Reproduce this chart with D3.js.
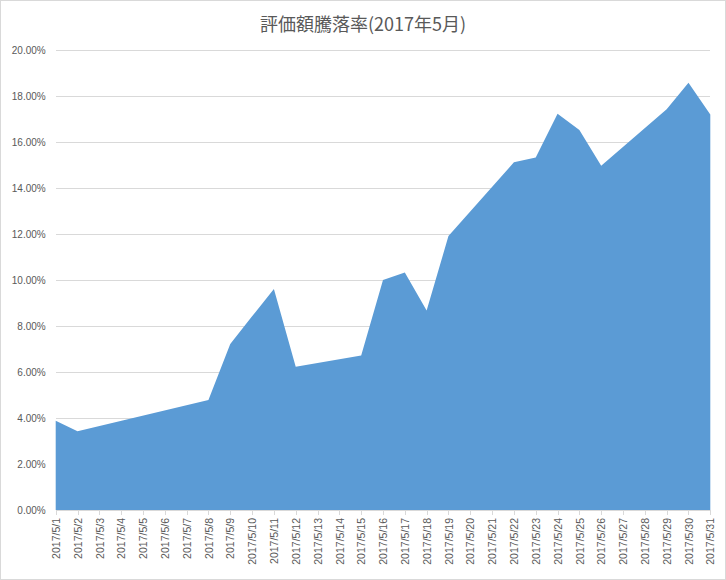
<!DOCTYPE html>
<html>
<head>
<meta charset="utf-8">
<script src="https://cdn.jsdelivr.net/npm/d3@7"></script>
<style>
  html, body { margin: 0; padding: 0; background: #fff; }
  svg { display: block; }
</style>
</head>
<body>
<svg id="chart" width="726" height="580"></svg>
<script>
const title = "評価額騰落率(2017年5月)";
const dataDates = ["2017/5/1","2017/5/2","2017/5/8","2017/5/9","2017/5/10","2017/5/11","2017/5/12",
  "2017/5/15","2017/5/16","2017/5/17","2017/5/18","2017/5/19","2017/5/22","2017/5/23","2017/5/24",
  "2017/5/25","2017/5/26","2017/5/29","2017/5/30","2017/5/31"];
const dataValues = [3.88, 3.42, 4.78, 7.22, 8.42, 9.61, 6.23,
  6.72, 10.0, 10.33, 8.67, 11.91, 15.12, 15.33, 17.23,
  16.52, 14.97, 17.42, 18.58, 17.2];
const xTickLabels = ["2017/5/1","2017/5/2","2017/5/3","2017/5/4","2017/5/5","2017/5/6","2017/5/7",
  "2017/5/8","2017/5/9","2017/5/10","2017/5/11","2017/5/12","2017/5/13","2017/5/14","2017/5/15",
  "2017/5/16","2017/5/17","2017/5/18","2017/5/19","2017/5/20","2017/5/21","2017/5/22","2017/5/23",
  "2017/5/24","2017/5/25","2017/5/26","2017/5/27","2017/5/28","2017/5/29","2017/5/30","2017/5/31"];
const yTicks = [0, 2, 4, 6, 8, 10, 12, 14, 16, 18, 20];

const W = 726, H = 580;
const plot = { left: 55.7, right: 710.3, top: 50, bottom: 510 };
const parse = d3.timeParse("%Y/%m/%d");
const data = dataDates.map((d, i) => ({ date: parse(d), value: dataValues[i] }));

const svg = d3.select("#chart");
svg.append("rect").attr("x", 0.5).attr("y", 0.5).attr("width", W - 1).attr("height", H - 1)
  .attr("fill", "#fff").attr("stroke", "#D9D9D9");

const x = d3.scaleTime()
  .domain([parse(xTickLabels[0]), parse(xTickLabels[xTickLabels.length - 1])])
  .range([plot.left, plot.right]);
const y = d3.scaleLinear().domain([0, 20]).range([plot.bottom, plot.top]);

// gridlines + y labels
const yAxis = d3.axisLeft(y).tickValues(yTicks)
  .tickSize(-(plot.right - plot.left))
  .tickPadding(10)
  .tickFormat(d => d3.format(".2f")(d) + "%");
const gy = svg.append("g").attr("transform", `translate(${plot.left},0)`).call(yAxis);
gy.select(".domain").remove();
gy.selectAll(".tick line").attr("stroke", "#D9D9D9").attr("stroke-width", 1)
  .attr("shape-rendering", "crispEdges");
gy.selectAll(".tick text").attr("fill", "#595959")
  .style("font-family", "'Liberation Sans', Arial, sans-serif").style("font-size", "10px");

// area
const area = d3.area()
  .x(d => x(d.date))
  .y0(y(0))
  .y1(d => y(d.value));
svg.append("path").datum(data).attr("d", area).attr("fill", "#5B9BD5");

// x axis
const xAxis = d3.axisBottom(x)
  .tickValues(xTickLabels.map(parse))
  .tickSize(5)
  .tickPadding(4)
  .tickFormat((d, i) => xTickLabels[i]);
const gx = svg.append("g").attr("transform", `translate(0,${plot.bottom})`).call(xAxis);
gx.select(".domain").attr("stroke", "#D9D9D9").attr("shape-rendering", "crispEdges");
gx.selectAll(".tick line").attr("stroke", "#D9D9D9").attr("shape-rendering", "crispEdges");
gx.selectAll(".tick text")
  .attr("fill", "#595959")
  .style("font-family", "'Liberation Sans', Arial, sans-serif").style("font-size", "10.5px")
  .attr("text-anchor", "end")
  .attr("dy", "0.35em")
  .attr("x", 0)
  .attr("y", 0)
  .attr("transform", "translate(0,8) rotate(-90)");

// title
svg.append("text").attr("x", 363).attr("y", 31).attr("text-anchor", "middle")
  .attr("fill", "#595959")
  .style("font-family", "'Noto Sans CJK JP', sans-serif").style("font-size", "18px")
  .text(title);
</script>
</body>
</html>
